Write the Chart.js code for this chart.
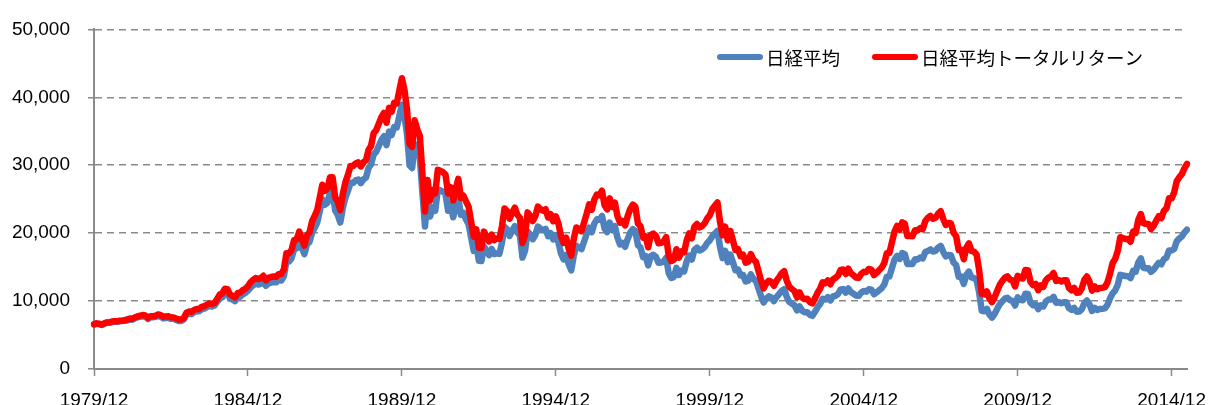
<!DOCTYPE html>
<html>
<head>
<meta charset="utf-8">
<script src="https://cdn.jsdelivr.net/npm/chart.js@4.4.1/dist/chart.umd.min.js"></script>
<style>
  html, body { margin: 0; padding: 0; background: #fff; }
  #wrap { width: 1209px; height: 405px; }
</style>
</head>
<body>
<div id="wrap"><canvas id="myChart" width="1209" height="405"></canvas></div>
<script>
// monthly data, 1979/12 .. 2015/06
const startYear = 1979;
const startMonth = 12;
const tickLabels = ['1979/12', '1984/12', '1989/12', '1994/12', '1999/12', '2004/12', '2009/12', '2014/12'];
const seriesNames = ['日経平均', '日経平均トータルリターン'];

const nikkei = [
  6569,
  6657, 6600, 6475, 6663, 6795, 6797, 6908, 6950, 6955, 7029, 7063, 7116, // 1980
  7146, 7290, 7267, 7469, 7600, 7700, 7780, 7730, 7370, 7620, 7620, 7682, // 1981
  7810, 7700, 7450, 7500, 7520, 7390, 7380, 7220, 7080, 7080, 7300, 8017, // 1982
  8140, 8080, 8360, 8500, 8500, 8800, 8900, 9100, 9300, 9200, 9350, 9894, // 1983
  10400, 10550, 11200, 11150, 10400, 10200, 10000, 10600, 10650, 11000, 11200, 11543, // 1984
  11990, 12320, 12580, 12430, 12560, 12880, 12250, 12600, 12720, 12800, 12760, 13113, // 1985
  13020, 13640, 15860, 15830, 16310, 17650, 17750, 18820, 17850, 16910, 18330, 18701, // 1986
  20050, 20770, 21570, 23270, 25000, 24180, 24490, 26030, 26010, 23330, 22690, 21564, // 1987
  23720, 25240, 26260, 27430, 27420, 27770, 27910, 27370, 27920, 28190, 29580, 30159, // 1988
  31580, 31980, 32840, 33710, 34270, 32950, 34950, 34430, 35640, 35550, 37270, 38916, // 1989
  37190, 34590, 29980, 29590, 33130, 31940, 31040, 25980, 20984, 25190, 22450, 23849, // 1990
  23290, 26410, 26290, 26110, 25790, 23290, 24120, 22340, 23920, 25220, 22690, 22984, // 1991
  22020, 21340, 19350, 17390, 18350, 15950, 15910, 18060, 17400, 16770, 17680, 16925, // 1992
  17020, 16950, 18590, 20920, 20550, 19590, 20380, 21030, 20100, 19700, 16410, 17417, // 1993
  20230, 19800, 19110, 19730, 20970, 20640, 20460, 20630, 19560, 19990, 19080, 19723, // 1994
  18650, 17050, 16140, 16810, 15440, 14520, 16680, 18120, 17910, 17650, 18740, 19868, // 1995
  20810, 20130, 21410, 22040, 21960, 22530, 20690, 20170, 21560, 20470, 21020, 19361, // 1996
  18330, 18560, 18000, 19150, 20070, 20600, 20330, 18230, 17890, 16460, 16630, 15259, // 1997
  16630, 16830, 16530, 15640, 15670, 15830, 16380, 14110, 13410, 13560, 14880, 13842, // 1998
  14500, 14370, 15840, 16700, 16110, 17530, 17860, 17440, 17610, 17940, 18560, 18934, // 1999
  19540, 19960, 20337, 17970, 16330, 17410, 15730, 16860, 15750, 14540, 14650, 13786, // 2000
  13840, 12880, 12999, 13934, 13262, 12969, 11860, 10713, 9775, 10366, 10697, 10543, // 2001
  9997, 10588, 11025, 11493, 11764, 10622, 9878, 9619, 9383, 8640, 9216, 8579, // 2002
  8340, 8363, 7973, 7831, 8425, 9083, 9563, 10344, 10219, 10560, 10101, 10677, // 2003
  10784, 11042, 11715, 11762, 11236, 11858, 11326, 11082, 10824, 10771, 11231, 11489, // 2004
  11388, 11740, 11668, 11009, 11277, 11584, 11900, 12414, 13574, 13607, 14872, 16111, // 2005
  16650, 16206, 17060, 16906, 15467, 15505, 15457, 16141, 16128, 16399, 16274, 17226, // 2006
  17383, 17604, 17288, 17400, 17876, 18138, 17249, 16569, 16786, 16737, 15681, 15308, // 2007
  13592, 13603, 12526, 13850, 14339, 13481, 13377, 13073, 11260, 8577, 8512, 8860, // 2008
  7994, 7568, 8110, 8828, 9523, 9958, 10357, 10493, 10133, 10035, 9346, 10546, // 2009
  10198, 10126, 11090, 11057, 9769, 9383, 9537, 8824, 9369, 9202, 9937, 10229, // 2010
  10238, 10624, 9755, 9850, 9694, 9816, 9833, 8955, 8700, 8988, 8434, 8455, // 2011
  8803, 9723, 10084, 9521, 8543, 9007, 8695, 8840, 8870, 8928, 9446, 10395, // 2012
  11139, 11559, 12398, 13861, 13775, 13677, 13668, 13389, 14456, 14328, 15662, 16291, // 2013
  14915, 14841, 14828, 14304, 14632, 15162, 15621, 15425, 16174, 16414, 17460, 17451, // 2014
  17674, 18798, 19207, 19520, 20100, 20500 // 2015
];

const totalReturn = [
  6570,
  6720, 6670, 6540, 6730, 6860, 6860, 6980, 7020, 7020, 7100, 7130, 7190, // 1980
  7290, 7440, 7410, 7620, 7750, 7850, 7940, 7880, 7520, 7770, 7770, 7840, // 1981
  8040, 7930, 7670, 7730, 7750, 7610, 7600, 7440, 7290, 7290, 7520, 8260, // 1982
  8470, 8400, 8690, 8840, 8840, 9150, 9260, 9460, 9670, 9570, 9720, 10290, // 1983
  10970, 11130, 11820, 11760, 10970, 10760, 10550, 11180, 11240, 11610, 11820, 12180, // 1984
  12770, 13120, 13400, 13240, 13380, 13720, 13050, 13420, 13550, 13630, 13590, 13970, // 1985
  14000, 14660, 17050, 17020, 17530, 18970, 19080, 20230, 19190, 18180, 19700, 20100, // 1986
  21750, 22540, 23400, 25250, 27130, 26240, 26570, 28240, 28220, 25310, 24620, 23400, // 1987
  25850, 27510, 28620, 29900, 29890, 30270, 30420, 29830, 30430, 30730, 32240, 32870, // 1988
  34740, 35180, 36120, 37080, 37700, 36250, 38450, 37870, 39200, 39110, 41000, 42810, // 1989
  41100, 38220, 33130, 32700, 36610, 35290, 34300, 28710, 23190, 27830, 24810, 26350, // 1990
  25850, 29320, 29180, 28980, 28630, 25850, 26770, 24800, 26550, 27990, 25190, 25510, // 1991
  24660, 23900, 21670, 19480, 20550, 17860, 17820, 20230, 19490, 18780, 19800, 18960, // 1992
  19230, 19150, 21010, 23640, 23220, 22140, 23030, 23760, 22710, 22260, 18540, 19680, // 1993
  23060, 22570, 21790, 22490, 23910, 23530, 23320, 23520, 22300, 22790, 21750, 22480, // 1994
  21450, 19610, 18560, 19330, 17760, 16700, 19180, 20840, 20600, 20300, 21550, 22850, // 1995
  24240, 23450, 24940, 25680, 25580, 26250, 24100, 23500, 25120, 23850, 24490, 22560, // 1996
  21540, 21810, 21150, 22500, 23580, 24210, 23890, 21420, 21020, 19340, 19540, 17930, // 1997
  19710, 19940, 19590, 18530, 18570, 18760, 19410, 16720, 15890, 16070, 17630, 16400, // 1998
  17330, 17170, 18930, 19960, 19250, 20950, 21340, 20840, 21040, 21440, 22180, 22630, // 1999
  23550, 24050, 24510, 21650, 19680, 20980, 18960, 20320, 18980, 17520, 17650, 16610, // 2000
  16820, 15650, 15790, 16930, 16110, 15760, 14410, 13020, 11880, 12590, 13000, 12810, // 2001
  12250, 12970, 13510, 14080, 14410, 13010, 12100, 11780, 11490, 10580, 11290, 10510, // 2002
  10300, 10330, 9850, 9670, 10400, 11220, 11810, 12770, 12620, 13040, 12470, 13190, // 2003
  13430, 13750, 14590, 14640, 13990, 14760, 14100, 13800, 13480, 13410, 13980, 14300, // 2004
  14290, 14730, 14640, 13820, 14150, 14540, 14930, 15580, 17040, 17080, 18660, 20220, // 2005
  21060, 20500, 21580, 21390, 19570, 19610, 19550, 20420, 20400, 20740, 20590, 21790, // 2006
  22250, 22530, 22130, 22270, 22880, 23220, 22080, 21210, 21490, 21420, 20070, 19590, // 2007
  17530, 17550, 16160, 17870, 18500, 17390, 17260, 16860, 14530, 11060, 10980, 11430, // 2008
  10390, 9840, 10540, 11480, 12380, 12950, 13460, 13640, 13170, 13050, 12150, 13710, // 2009
  13410, 13320, 14580, 14540, 12850, 12340, 12540, 11600, 12320, 12100, 13070, 13450, // 2010
  13620, 14130, 12970, 13100, 12890, 13060, 13080, 11910, 11570, 11950, 11220, 11250, // 2011
  11880, 13130, 13610, 12850, 11530, 12160, 11740, 11930, 11970, 12050, 12750, 14030, // 2012
  15590, 16180, 17360, 19410, 19290, 19150, 19140, 18740, 20240, 20060, 21930, 22810, // 2013
  21480, 21370, 21350, 20600, 21070, 21830, 22490, 22210, 23290, 23640, 25140, 25130, // 2014
  25980, 27630, 28230, 28690, 29550, 30200 // 2015
];

// month labels yyyy/mm
let months = [];
let y = startYear, m = startMonth;
for (let i = 0; i < nikkei.length; i++) {
    months.push(y + '/' + String(m).padStart(2, '0'));
    m++;
    if (m > 12) { m = 1; y++; }
}

const gridGray = '#8a8a8a';

// legend drawn inside the plot, top right
const insideLegend = {
    id: 'insideLegend',
    afterDraw(chart) {
        const ctx = chart.ctx;
        const cy = 57;
        let x = 717;
        ctx.save();
        ctx.font = '18.5px "Noto Sans CJK JP"';
        ctx.textBaseline = 'middle';
        ctx.textAlign = 'left';
        chart.data.datasets.forEach(ds => {
            ctx.strokeStyle = ds.borderColor;
            ctx.lineWidth = 6;
            ctx.lineCap = 'round';
            ctx.beginPath();
            ctx.moveTo(x + 3, cy);
            ctx.lineTo(x + 43, cy);
            ctx.stroke();
            ctx.fillStyle = '#000';
            ctx.fillText(ds.label, x + 49, cy + 1);
            x += 49 + ctx.measureText(ds.label).width + 32;
        });
        ctx.restore();
    }
};

Chart.defaults.font.family = '"Liberation Sans", Arial, sans-serif';
Chart.defaults.color = '#000';

let ctx = document.getElementById('myChart').getContext('2d');
let myChart = new Chart(ctx, {
    type: 'line',
    data: {
        labels: months,
        datasets: [{
            label: seriesNames[0],
            data: nikkei,
            borderColor: '#4F81BD',
            borderWidth: 6.5,
            pointRadius: 0,
            borderJoinStyle: 'round',
            borderCapStyle: 'round',
            tension: 0,
            order: 1
        }, {
            label: seriesNames[1],
            data: totalReturn,
            borderColor: '#FF0000',
            borderWidth: 6.5,
            pointRadius: 0,
            borderJoinStyle: 'round',
            borderCapStyle: 'round',
            tension: 0,
            order: 0
        }]
    },
    options: {
        responsive: false,
        animation: false,
        devicePixelRatio: 1,
        layout: { padding: { top: 21, right: 22, bottom: 0, left: 0 } },
        plugins: {
            legend: { display: false },
            tooltip: { enabled: false }
        },
        scales: {
            x: {
                offset: false,
                afterFit: s => { s.height = 36; },
                grid: {
                    drawOnChartArea: false,
                    drawTicks: true,
                    tickLength: 7,
                    tickWidth: 1.5,
                    color: c => tickLabels.includes(months[c.index]) ? gridGray : 'rgba(0,0,0,0)'
                },
                border: { color: gridGray, width: 2 },
                ticks: {
                    autoSkip: false,
                    maxRotation: 0,
                    padding: 13,
                    font: { size: 19 },
                    callback: (v, i) => tickLabels.includes(months[i]) ? months[i] : ''
                }
            },
            y: {
                min: 0,
                max: 50000,
                afterFit: s => { s.width = 94; },
                grid: {
                    color: gridGray,
                    lineWidth: 1.5,
                    tickLength: 6,
                    tickColor: gridGray,
                    tickBorderDash: []
                },
                border: { color: gridGray, width: 2, dash: [7, 5] },
                ticks: {
                    stepSize: 10000,
                    padding: 18,
                    font: { size: 19 },
                    callback: v => v.toLocaleString('en-US')
                }
            }
        }
    },
    plugins: [insideLegend]
});
</script>
</body>
</html>
